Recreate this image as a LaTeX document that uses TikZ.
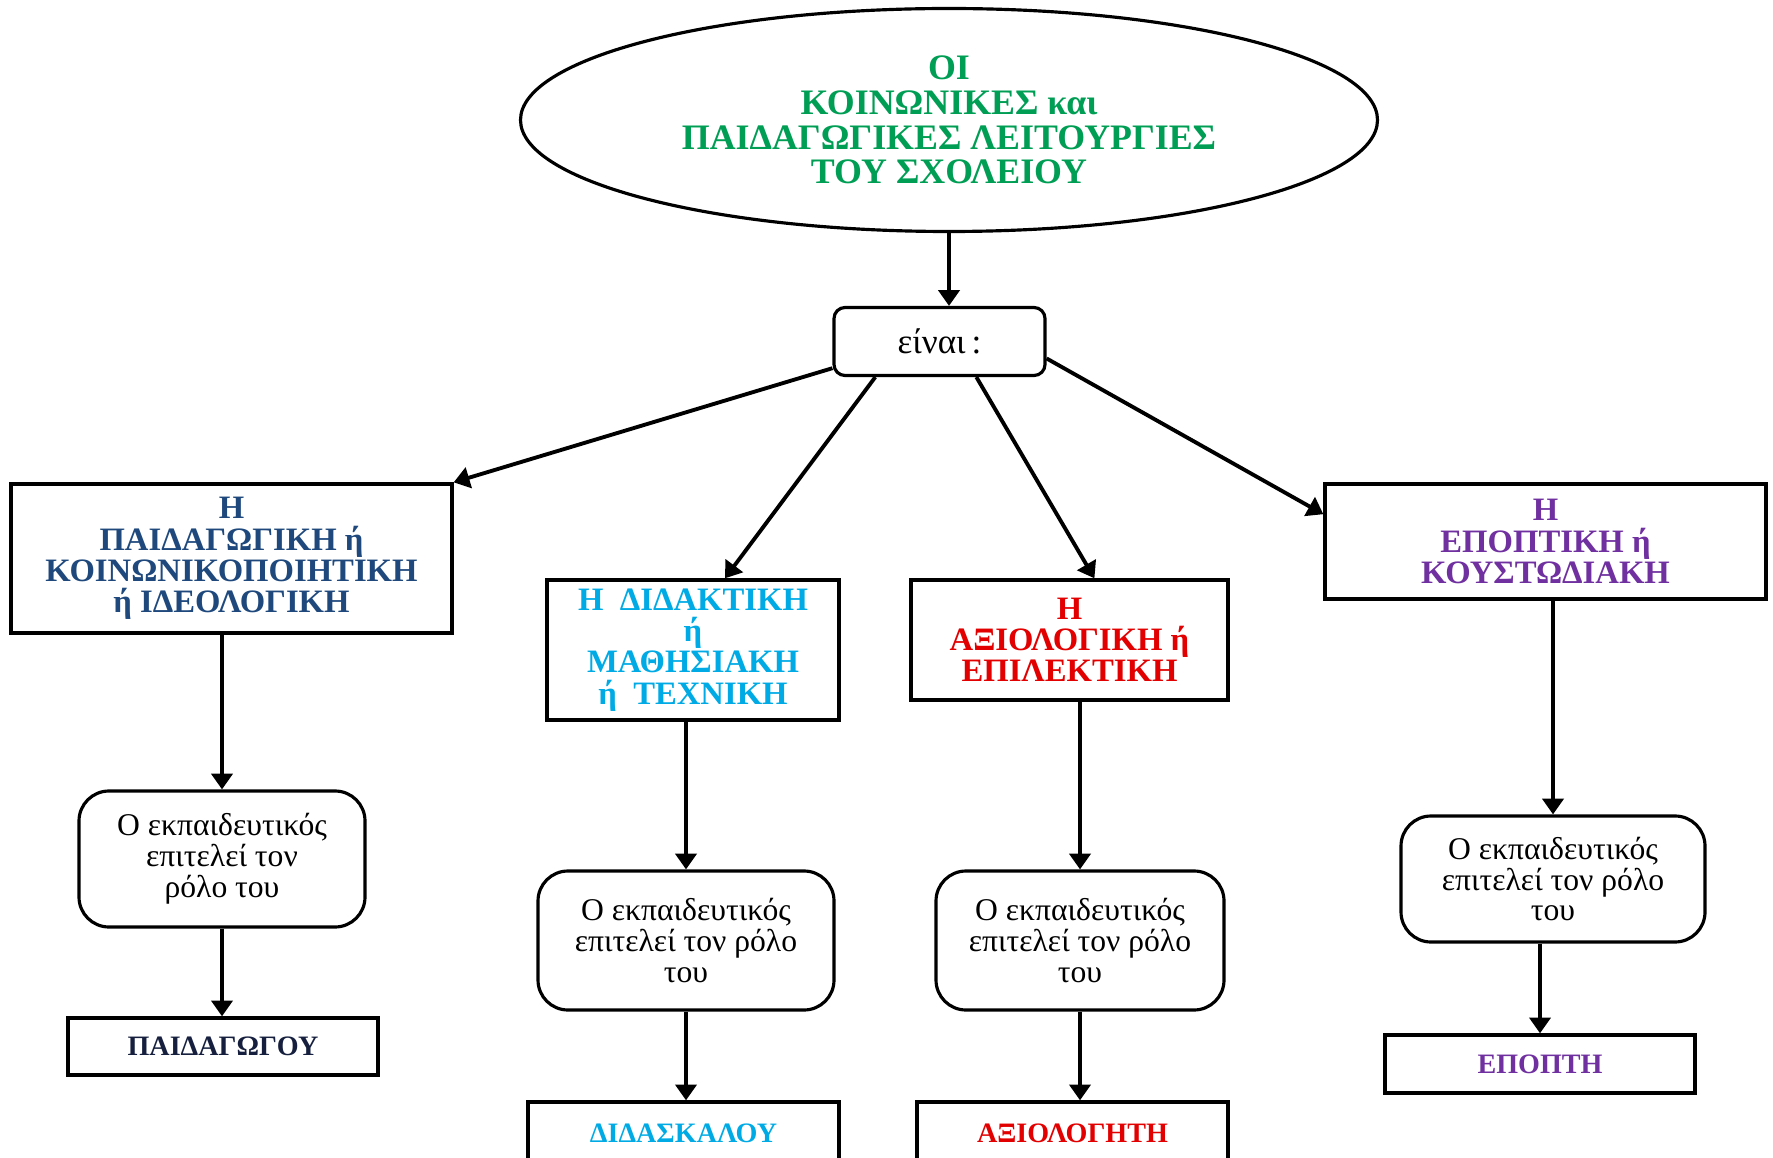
\documentclass[tikz,border=0pt]{standalone}
\usepackage{fontspec}
\setmainfont{Liberation Serif}
\usetikzlibrary{shapes.geometric,arrows.meta}
\definecolor{titlegreen}{RGB}{0,158,84}
\definecolor{pedblue}{RGB}{31,73,125}
\definecolor{didcyan}{RGB}{0,170,228}
\definecolor{evalred}{RGB}{226,0,0}
\definecolor{supviolet}{RGB}{112,48,160}
\definecolor{navytext}{RGB}{22,32,62}

\begin{document}
\begin{tikzpicture}[
    oval/.style={ellipse, draw, line width=0.9pt, inner sep=0pt,
      minimum width=8.57cm, minimum height=2.23cm, align=center,
      text=titlegreen, font=\bfseries\fontsize{10.2}{9.9}\selectfont},
    isbox/.style={draw, line width=0.9pt, rounded corners=0.11cm,
      minimum width=2.11cm, minimum height=0.68cm,
      font=\fontsize{10}{10}\selectfont},
    funcbox/.style={draw, line width=0.95pt, align=center, inner sep=0pt,
      font=\bfseries\fontsize{9.3}{8.9}\selectfont},
    rolebox/.style={draw, line width=0.9pt, rounded corners=0.3cm,
      align=center, inner sep=0pt, font=\fontsize{9}{8.8}\selectfont},
    namebox/.style={draw, line width=0.95pt, inner sep=0pt,
      font=\bfseries\fontsize{8}{8}\selectfont}]
  \useasboundingbox (0,0) rectangle (17.73,-11.58);

  \begin{scope}
    \node[oval] (title) at (9.49,-1.20) {ΟΙ\\ΚΟΙΝΩΝΙΚΕΣ
      και\\ΠΑΙΔΑΓΩΓΙΚΕΣ ΛΕΙΤΟΥΡΓΙΕΣ\\ΤΟΥ ΣΧΟΛΕΙΟΥ};
    \node[isbox] (einai) at (9.395,-3.415) {είναι\,:};
  \end{scope}

  \begin{scope}
    \node[funcbox, text=pedblue, minimum width=4.41cm, minimum
    height=1.49cm] (ped) at (2.315,-5.585) {Η\\ΠΑΙΔΑΓΩΓΙΚΗ
      ή\\ΚΟΙΝΩΝΙΚΟΠΟΙΗΤΙΚΗ\\ή ΙΔΕΟΛΟΓΙΚΗ}; \node[funcbox,
    text=didcyan, minimum width=2.92cm, minimum height=1.40cm] (did)
    at (6.93,-6.50) {Η\enspace ΔΙΔΑΚΤΙΚΗ\\ή\\ΜΑΘΗΣΙΑΚΗ\\ή\enspace
      ΤΕΧΝΙΚΗ}; \node[funcbox, text=evalred, minimum width=3.17cm,
    minimum height=1.20cm] (eval) at (10.695,-6.40) {Η\\ΑΞΙΟΛΟΓΙΚΗ
      ή\\ΕΠΙΛΕΚΤΙΚΗ}; \node[funcbox, text=supviolet, minimum
    width=4.41cm, minimum height=1.15cm] (sup) at (15.455,-5.415)
    {Η\\ΕΠΟΠΤΙΚΗ ή\\ΚΟΥΣΤΩΔΙΑΚΗ};
  \end{scope}

  \begin{scope}
    \node[rolebox, minimum width=2.86cm, minimum height=1.36cm]
    (pedrole) at (2.22,-8.59) {Ο εκπαιδευτικός\\επιτελεί τον\\ρόλο
      του}; \node[rolebox, minimum width=2.96cm, minimum
    height=1.39cm] (didrole) at (6.86,-9.405) {Ο
      εκπαιδευτικός\\επιτελεί τον ρόλο\\του}; \node[rolebox, minimum
    width=2.88cm, minimum height=1.39cm] (evalrole) at (10.80,-9.405)
    {Ο εκπαιδευτικός\\επιτελεί τον ρόλο\\του}; \node[rolebox, minimum
    width=3.04cm, minimum height=1.26cm] (suprole) at (15.53,-8.79) {Ο
      εκπαιδευτικός\\επιτελεί τον ρόλο\\του};
  \end{scope}

  \begin{scope}
    \node[namebox, text=navytext, minimum width=3.10cm, minimum
    height=0.57cm] (pedname) at (2.23,-10.465) {ΠΑΙΔΑΓΩΓΟΥ};
    \node[namebox, text=didcyan, minimum width=3.11cm, minimum
    height=0.62cm] (didname) at (6.835,-11.33) {ΔΙΔΑΣΚΑΛΟΥ};
    \node[namebox, text=evalred, minimum width=3.11cm, minimum
    height=0.62cm] (evalname) at (10.725,-11.33) {ΑΞΙΟΛΟΓΗΤΗ};
    \node[namebox, text=supviolet, minimum width=3.10cm, minimum
    height=0.58cm] (supname) at (15.40,-10.64) {ΕΠΟΠΤΗ};
  \end{scope}

  \begin{scope}[->, >={Triangle[length=4.5pt,width=6pt]}, line width=1.1pt]
    \draw (title.south) -- (title.south |- einai.north);
    \draw (einai.-166) -- (ped.north east);
    \draw (einai.-151) -- (did.66);
    \draw (einai.-44) -- (eval.68);
    \draw (einai.-9) -- (sup.173);

    \draw (ped.south -| pedrole) -- (pedrole.north); \draw
    (pedrole.south) -- (pedrole.south |- pedname.north);
    \draw (did.south -| didrole) -- (didrole.north); \draw
    (didrole.south) -- (didrole.south |- didname.north);
    \draw (eval.south -| evalrole) -- (evalrole.north); \draw
    (evalrole.south) -- (evalrole.south |- evalname.north);
    \draw (sup.south -| suprole) -- (suprole.north); \draw
    (suprole.south -| supname) -- (supname.north);
  \end{scope}
\end{tikzpicture}
\end{document}
